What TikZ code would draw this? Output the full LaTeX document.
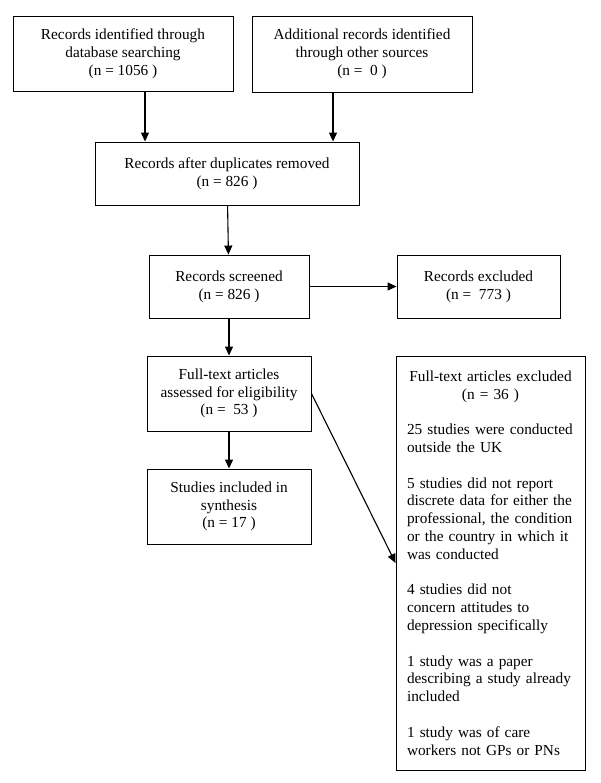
\documentclass[tikz,border=0pt]{standalone}
\usepackage{fontspec}
\setmainfont{Liberation Serif}
\usetikzlibrary{arrows.meta}

\begin{document}
\begin{tikzpicture}[x=1pt,y=-1pt,font=\fontsize{15.3}{17.8}\selectfont]
\tikzset{el/.style={draw, line width=.9pt, rectangle, inner sep=0pt, align=center},
con/.style={-{Triangle[length=9pt,width=8pt]}, line width=1.1pt}}

\useasboundingbox (0,0) rectangle (600,783);

% Identification
\node[el, minimum width=220pt, minimum height=75pt] (dbrec) at (123,53.5)
{Records identified through\\database searching\\(n = 1056 )};
\node[el, minimum width=220pt, minimum height=76pt] (other) at (362,54)
{Additional records identified\\through other sources\\(n =\ \ 0 )};

% Screening
\node[el, minimum width=264pt, minimum height=63pt] (dup) at (227,173.5)
{Records after duplicates removed\\(n = 826 )};
\node[el, minimum width=160pt, minimum height=63pt] (screen) at (229,286.5)
{Records screened\\(n = 826 )};
\node[el, minimum width=163pt, minimum height=63pt] (excl) at (478.5,286.5)
{Records excluded\\(n =\ \ 773 )};

% Eligibility and inclusion
\node[el, minimum width=164pt, minimum height=75pt] (full) at (229,393.5)
{Full-text articles\\assessed for eligibility\\(n =\ \ 53 )};
\node[el, minimum width=164pt, minimum height=75pt] (incl) at (229,506.5)
{Studies included in\\synthesis\\(n = 17 )};

\node[el, minimum width=189pt, minimum height=414pt, text width=167pt, inner xsep=11pt, align=left] (fexcl) at (490.5,563)
{\makebox[167pt]{Full-text articles excluded}\\
\makebox[167pt]{(n = 36 )}\\[17.8pt]
25 studies were conducted\\
outside the UK\\[17.8pt]
5 studies did not report\\
discrete data for either the\\
professional, the condition\\
or the country in which it\\
was conducted\\[17.8pt]
4 studies did not\\
concern attitudes to\\
depression specifically\\[17.8pt]
1 study was a paper\\
describing a study already\\
included\\[17.8pt]
1 study was of care\\
workers not GPs or PNs};

% Connections
\draw[con] ([xshift=22pt]dbrec.south) -- ([xshift=22pt]dbrec.south |- dup.north);
\draw[con] ([xshift=-29pt]other.south) -- ([xshift=-29pt]other.south |- dup.north);
\draw[con] (dup) -- (screen);
\draw[con] (screen) -- (excl);
\draw[con] (screen) -- (full);
\draw[con] (full) -- (incl);
\draw[con] (full.east) -- (fexcl.west);

\end{tikzpicture}
\end{document}
